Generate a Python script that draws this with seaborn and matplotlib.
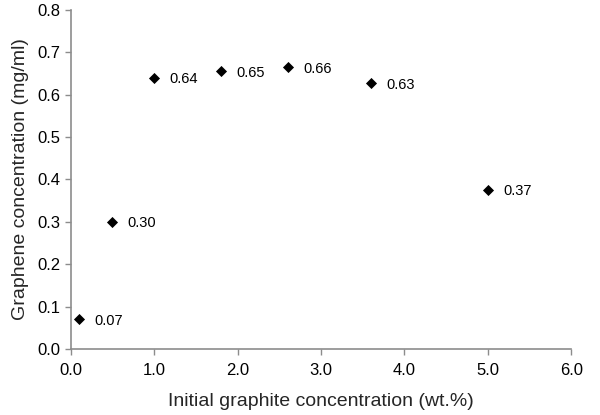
import matplotlib
matplotlib.use('Agg')
import matplotlib.pyplot as plt
import seaborn as sns
import pandas as pd

# initial graphite (wt.%) vs graphene concentration (mg/ml)
graphite = [0.1, 0.5, 1.0, 1.8, 2.6, 3.6, 5.0]
graphene = [0.07, 0.30, 0.64, 0.655, 0.665, 0.627, 0.375]
point_labels = ['0.07', '0.30', '0.64', '0.65', '0.66', '0.63', '0.37']

x_ticks = [0.0, 1.0, 2.0, 3.0, 4.0, 5.0, 6.0]
y_ticks = [0.0, 0.1, 0.2, 0.3, 0.4, 0.5, 0.6, 0.7, 0.8]

df = pd.DataFrame({'graphite': graphite, 'graphene': graphene})

sns.set_theme(style='ticks')
plt.rcParams['font.family'] = ['Liberation Sans', 'DejaVu Sans']

fig = plt.figure(figsize=(6, 4.15), dpi=100)
ax = fig.add_axes([0.118, 0.159, 0.834, 0.817])

sns.scatterplot(data=df, x='graphite', y='graphene', marker='D', s=32,
                color='black', edgecolor='black', linewidth=0, ax=ax)

for xv, yv, lab in zip(graphite, graphene, point_labels):
    ax.annotate(lab, (xv, yv), xytext=(11, -1), textcoords='offset points',
                ha='left', va='center', fontsize=10.5, color='black')

ax.set_xlim(0, 6)
ax.set_ylim(0, 0.8)
ax.set_xticks(x_ticks)
ax.set_yticks(y_ticks)
ax.set_xticklabels(['%.1f' % v for v in x_ticks])
ax.set_yticklabels(['%.1f' % v for v in y_ticks])
ax.tick_params(axis='both', colors='#8c8c8c', labelcolor='black', labelsize=12,
               length=4, width=1, direction='out')
ax.tick_params(axis='x', pad=6)

for side in ['top', 'right']:
    ax.spines[side].set_visible(False)
for side in ['left', 'bottom']:
    ax.spines[side].set_color('#8c8c8c')
    ax.spines[side].set_linewidth(1.2)

ax.set_xlabel('Initial graphite concentration (wt.%)', fontsize=14, labelpad=11)
ax.set_ylabel('Graphene concentration (mg/ml)', fontsize=14, labelpad=6)

fig.savefig('out.png', dpi=100)
